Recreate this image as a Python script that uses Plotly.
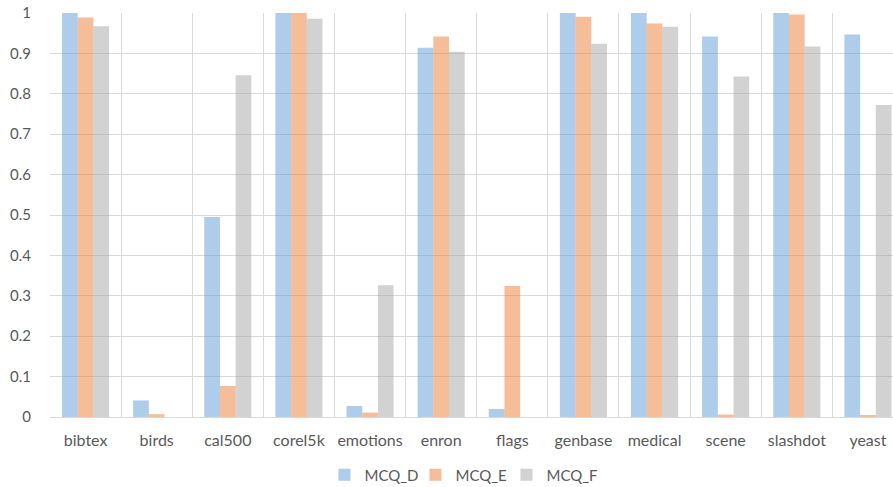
import plotly.graph_objects as go

categories = ["bibtex", "birds", "cal500", "corel5k", "emotions", "enron",
              "flags", "genbase", "medical", "scene", "slashdot", "yeast"]
mcq_d = [1.0, 0.041, 0.495, 1.0, 0.027, 0.914, 0.020, 1.0, 1.0, 0.942, 1.0, 0.947]
mcq_e = [0.989, 0.007, 0.077, 1.0, 0.011, 0.942, 0.324, 0.991, 0.974, 0.006, 0.996, 0.005]
mcq_f = [0.967, 0.0, 0.846, 0.986, 0.326, 0.904, 0.0, 0.924, 0.966, 0.843, 0.917, 0.772]
y_ticks = [0, 0.1, 0.2, 0.3, 0.4, 0.5, 0.6, 0.7, 0.8, 0.9, 1]
y_tick_text = ["0", "0.1", "0.2", "0.3", "0.4", "0.5", "0.6", "0.7", "0.8", "0.9", "1"]

series = [
    ("MCQ_D", mcq_d, "rgba(91,155,213,0.5)"),
    ("MCQ_E", mcq_e, "rgba(237,125,49,0.5)"),
    ("MCQ_F", mcq_f, "rgba(165,165,165,0.5)"),
]

fig = go.Figure()
for name, vals, col in series:
    fig.add_trace(go.Bar(x=categories, y=vals, name=name,
                         marker=dict(color=col, line=dict(width=0))))

font_family = "Lato, 'Open Sans', sans-serif"
text_color = "#595959"
grid_color = "#D9D9D9"

fig.update_layout(
    width=893, height=487,
    margin=dict(l=50, r=0, t=13, b=70, autoexpand=False),
    paper_bgcolor="white", plot_bgcolor="white",
    barmode="group", bargap=0.338, bargroupgap=0,
    font=dict(family=font_family, color=text_color, size=15),
    showlegend=True,
    legend=dict(orientation="h", x=0.4875, xanchor="center",
                y=-0.1436, yanchor="middle",
                font=dict(size=15, color=text_color),
                itemwidth=30, traceorder="normal",
                entrywidth=46, entrywidthmode="pixels"),
    xaxis=dict(type="category", range=[-0.5, 11.5 - 10.5 / 71.2],
               tickson="boundaries", showgrid=True, gridcolor=grid_color,
               gridwidth=1, ticks="", showline=False, zeroline=False,
               tickangle=0, automargin=False,
               tickfont=dict(size=16, color=text_color),
               ticklabelstandoff=12),
    yaxis=dict(range=[0, 1], tickvals=y_ticks, ticktext=y_tick_text,
               showgrid=True, gridcolor=grid_color, gridwidth=1,
               zeroline=True, zerolinecolor=grid_color, zerolinewidth=1,
               showline=False, ticks="", automargin=False,
               tickfont=dict(size=15, color=text_color),
               ticklabelstandoff=18),
)

fig.write_html("out.html")
